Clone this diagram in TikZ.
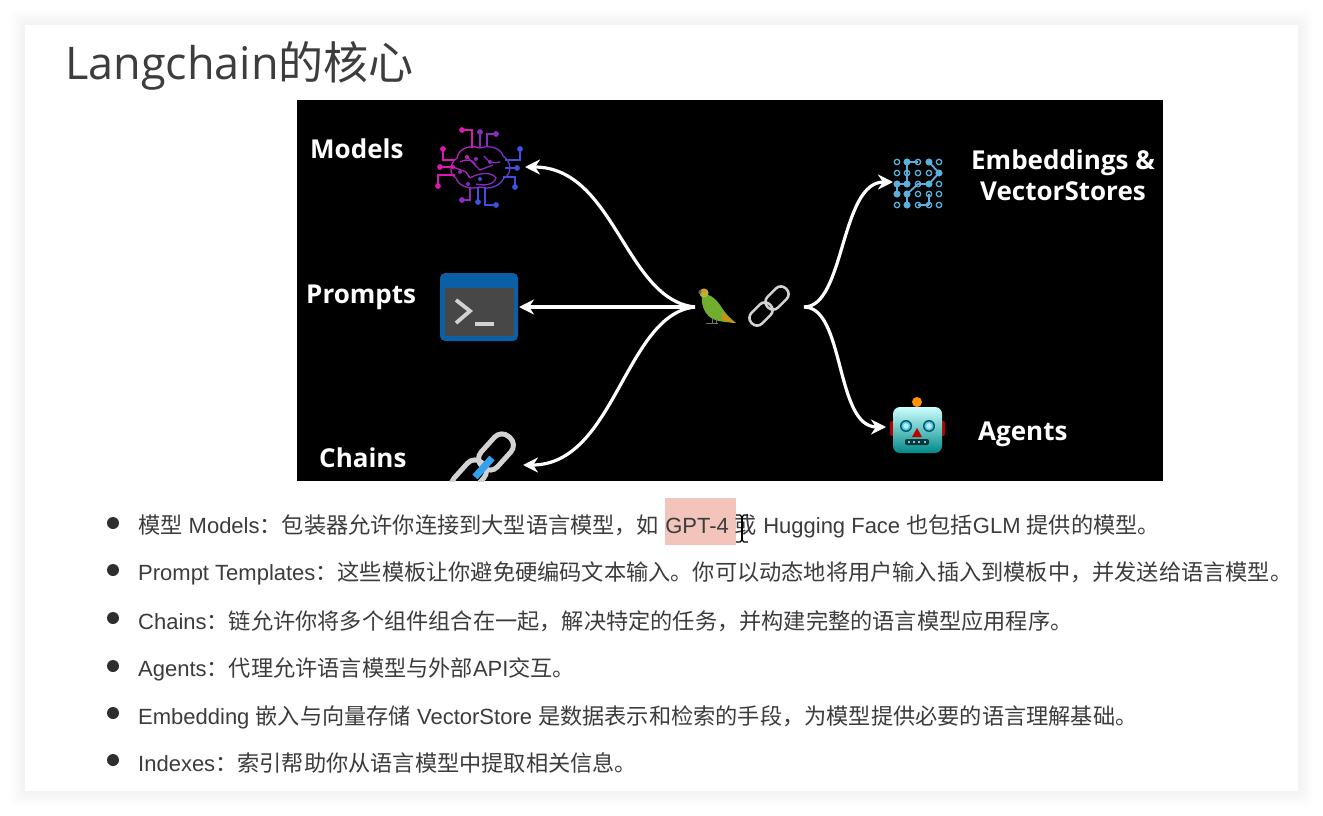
\documentclass[tikz,border=0pt]{standalone}
\usepackage{fontspec}
\setmainfont{Liberation Sans}
\newfontfamily\cjk[Scale=1.009]{Noto Sans CJK SC}
\newfontfamily\titlefont{Open Sans}
\newfontfamily\titlecjk{Noto Sans CJK SC}
\newfontfamily\slidefont{Open Sans}
\newcommand{\zh}[1]{{\cjk #1}}
\usetikzlibrary{arrows.meta, positioning}
\definecolor{bodygray}{HTML}{3C3C3C}
\definecolor{marksalmon}{HTML}{F2C4BB}
\definecolor{brainA}{HTML}{D81BB0}
\definecolor{brainB}{HTML}{8A2BBE}
\definecolor{brainC}{HTML}{3F50E0}
\definecolor{gridblue}{HTML}{5AB0DC}
\definecolor{linkgray}{HTML}{D2D2D2}
\definecolor{termblue}{HTML}{0B5FA5}
\definecolor{chainblue}{HTML}{33A0F0}
\definecolor{parrotgreen}{HTML}{6FAE2E}
\definecolor{parrothead}{HTML}{B5B53A}
\tikzset{>={Stealth[length=15pt,width=15pt]}}
\tikzset{
  itemtext/.style={anchor=base west,text=bodygray,font=\fontsize{22}{26}\selectfont,inner sep=0pt},
  slidelabel/.style={text=white,font=\slidefont\bfseries\fontsize{26}{31}\selectfont,inner sep=0pt,align=center},
  flow/.style={white,line width=3.2pt},
  wire/.style={line width=1.3pt},
  griddot/.style={gridblue,line width=1.3pt},
}
\begin{document}
\begin{tikzpicture}[x=1pt,y=-1pt,>={Stealth[length=15pt,width=15pt]}]
        \useasboundingbox (0,0) rectangle (1323,816);
        \fill[white](0,0) rectangle (1323,816);
        % card and its soft shadow
        \foreach \s in {1,...,12}
          \fill[black,opacity=.004,rounded corners=8pt](25-1.3*\s,25-1.3*\s) rectangle (1298+1.3*\s,791+1.3*\s);
        \fill[white](25,25) rectangle (1298,791);
        \draw (65,80) node[anchor=base west,inner sep=0pt,text=black!76,font=\fontsize{45}{54}\selectfont] (title) {\titlefont Langchain\titlecjk 的核心};

        % the black picture
        \fill[black](297,100) rectangle (1163,481);
        \draw (310,149) node[slidelabel,anchor=west] (models) {Models};
        \draw (306,297) node[slidelabel,anchor=west] (prompts) {Prompts};
        \draw (319,458) node[slidelabel,anchor=west] (chains) {Chains};
        \draw (1063,175) node[slidelabel] (embeddings) {Embeddings \&\\VectorStores};
        \draw (978,434) node[slidelabel,anchor=west] (agents) {Agents};

        % brain
        \foreach \xa/\ya/\xb/\yb/\xc/\yc/\c in {
            462/130/472/130/472/148/brainA,
            480/132/480/132/480/147/brainB,
            496/134/487/134/487/147/brainB,
            443/149/443/160/455/160/brainA,
            520/149/520/160/505/160/brainC,
            440/167/440/167/453/167/brainA,
            517/168/517/168/505/168/brainC,
            438/186/438/175/455/175/brainA,
            515/187/515/177/503/177/brainC,
            462/200/470/200/470/187/brainB,
            478/202/478/202/478/187/brainC,
            496/205/485/205/485/187/brainC}{
          \draw[wire,\c](\xa,\ya)--(\xb,\yb)--(\xc,\yc);
          \fill[\c](\xa,\ya) circle (2.9);
        }
        \draw[wire,brainA!60!brainB](480,148) .. controls (468,144) and (458,150) .. (457,158) .. controls (449,164) and (449,174) .. (456,178);
        \draw[wire,brainB](456,178) .. controls (458,186) and (470,190) .. (480,187);
        \draw[wire,brainB](480,148) .. controls (492,144) and (502,150) .. (503,156);
        \draw[wire,brainB!50!brainC](503,156) .. controls (512,162) and (512,174) .. (504,178) .. controls (500,186) and (490,190) .. (480,187);
        \draw[wire,brainB](470,178) .. controls (480,172) and (492,172) .. (496,178) .. controls (494,185) and (484,186) .. (476,184);
        \draw[wire,brainA!50!brainB](460,162) .. controls (468,158) and (474,160) .. (476,166);
        \draw[wire,brainB](484,156) .. controls (488,162) and (494,164) .. (500,162);
        \draw[wire,brainB](467,157)--(480,170)--(493,165);
        \draw[wire,brainA!50!brainB](453,167)--(466,172)--(470,178);
        \foreach \x/\y/\c in {467/157/brainA,476/159/brainB,490/162/brainB,453/167/brainA,460/172/brainB,480/179/brainC,468/184/brainB}
          \fill[\c](\x,\y) circle (2);

        % terminal
        \fill[termblue,rounded corners=5pt](440,273) rectangle (518,341);
        \fill[black!72](445,288) rectangle (514,336);
        \draw[linkgray,line width=3.8pt](456,300)--(470,311)--(456,323);
        \draw[linkgray,line width=3.8pt](475,324)--(494,324);

        % chain at the bottom edge
        \begin{scope}
          \clip (297,100) rectangle (1163,481);
          \draw[linkgray,line width=5pt,rounded corners=10pt,shift={(496,452)},rotate=48](-20,-11) rectangle (20,11);
          \draw[linkgray,line width=5pt,rounded corners=10pt,shift={(469,478)},rotate=48](-20,-11) rectangle (20,11);
          \draw[chainblue,line width=7pt](475,477)--(492,458);
        \end{scope}

        % parrot
        \fill[parrotgreen](702,296) .. controls (708,292) and (716,298) .. (722,308) .. controls (726,314) and (730,318) .. (736,323) .. controls (726,322) and (718,322) .. (711,318) .. controls (704,313) and (701,304) .. (702,296) -- cycle;
        \fill[orange!70!parrotgreen](722,312) .. controls (726,316) and (731,320) .. (736,323) .. controls (730,323) and (726,321) .. (722,319) -- cycle;
        \fill[parrothead](704,293) circle (4.6);
        \fill[orange](704,291) circle (1.8);
        \fill[black!60](700,292) circle (1.8);
        \draw[black!55,line width=.7pt](706,323)--(718,323);
        \draw[black!55,line width=.7pt](712,318)--(712,323);
        \draw[black!55,line width=.7pt](716,319)--(716,323);

        % link emoji
        \draw[linkgray,line width=2.6pt,rounded corners=7pt,shift={(761,314)},rotate=45](-13,-7.5) rectangle (13,7.5);
        \draw[linkgray,line width=2.6pt,rounded corners=7pt,shift={(777,298)},rotate=45](-13,-7.5) rectangle (13,7.5);

        % grid of dots
        \foreach \x in {897,907,918,929,939}
          \foreach \y in {162,173,184,194,205}
            \draw[griddot](\x,\y) circle (2.7);
        \draw[griddot,line width=1.8pt](907,162)--(918,162);
        \draw[griddot,line width=1.8pt](907,162)--(907,184);
        \draw[griddot,line width=1.8pt](929,162)--(939,173)--(929,184)--(918,184)--(907,194)--(907,205);
        \draw[griddot,line width=1.8pt](897,184)--(907,184);
        \draw[griddot,line width=1.8pt](897,184)--(897,194);
        \draw[griddot,line width=1.8pt](918,205)--(929,205);
        \draw[griddot,line width=1.8pt](929,194)--(929,205);
        \foreach \x/\y in {907/162,929/162,939/173,897/184,907/184,929/184,897/194,907/194,907/205}
          \fill[gridblue](\x,\y) circle (3.4);

        % robot
        \fill[red!70!black,rounded corners=1.5pt](890,421) rectangle (897,436);
        \fill[red!70!black,rounded corners=1.5pt](938,421) rectangle (945,436);
        \fill[violet!70!black](917,409) ellipse (6 and 3);
        \shade[top color=cyan!20,bottom color=teal!75!cyan!85!black,rounded corners=7pt](893,407) rectangle (942,453);
        \fill[orange!85!yellow](917,402) circle (5);
        \foreach \x in {906,929}{
          \fill[teal!70!black](\x,426) circle (6);
          \fill[cyan!70!white](\x,426) circle (4.6);
          \fill[white!75!cyan](\x,426) circle (2.8);
        }
        \fill[red!75!black](917,428)--(922,437)--(912,437)--cycle;
        \fill[teal!45!black,rounded corners=2pt](905,439) rectangle (929,445);
        \foreach \x in {909,914,919,925}
          \fill[white!80!cyan](\x,442) circle (1.2);

        % connectors
        \coordinate (fork) at (695,307);
        \coordinate (forkb) at (804,307);
        \coordinate (brainin) at (525,167);
        \coordinate (termin) at (519,307);
        \coordinate (chainin) at (523,465);
        \coordinate (gridin) at (893,182);
        \coordinate (robotin) at (886,427);
        \draw[flow,->](fork) .. controls (625,300) and (615,167) .. (brainin);
        \draw[flow,->](fork)--(termin);
        \draw[flow,->](fork) .. controls (625,314) and (615,465) .. (chainin);
        \draw[flow,->](forkb) .. controls (845,307) and (840,182) .. (gridin);
        \draw[flow,->](forkb) .. controls (845,307) and (835,427) .. (robotin);

        % list below the picture
        \fill[marksalmon](665,498) rectangle (736,545);
        \foreach \y in {523,570,618,666,713,760}
          \fill[black!82](113,\y) circle (6);
        \draw (138,533) node[itemtext] (item1) {\zh{模型} Models\zh{：包装器允许你连接到大型语言模型，如} GPT-4 \zh{或} Hugging Face \zh{也包括}GLM \zh{提供的模型。}};
        \draw (138,580) node[itemtext] (item2) {Prompt Templates\zh{：这些模板让你避免硬编码文本输入。你可以动态地将用户输入插入到模板中，并发送给语言模型。}};
        \draw (138,629) node[itemtext] (item3) {Chains\zh{：链允许你将多个组件组合在一起，解决特定的任务，并构建完整的语言模型应用程序。}};
        \draw (138,676) node[itemtext] (item4) {Agents\zh{：代理允许语言模型与外部}API\zh{交互。}};
        \draw (138,724) node[itemtext] (item5) {Embedding \zh{嵌入与向量存储} VectorStore \zh{是数据表示和检索的手段，为模型提供必要的语言理解基础。}};
        \draw (138,771) node[itemtext] (item6) {Indexes\zh{：索引帮助你从语言模型中提取相关信息。}};

        % text cursor
        \draw[white,line width=2.6pt](742,516)--(742,541);
        \draw[black,line width=1.2pt](736,515)--(740,515)--(742,517)--(744,515)--(748,515);
        \draw[black,line width=1.2pt](742,517)--(742,540);
        \draw[black,line width=1.2pt](736,542)--(740,542)--(742,540)--(744,542)--(748,542);
\end{tikzpicture}
\end{document}
